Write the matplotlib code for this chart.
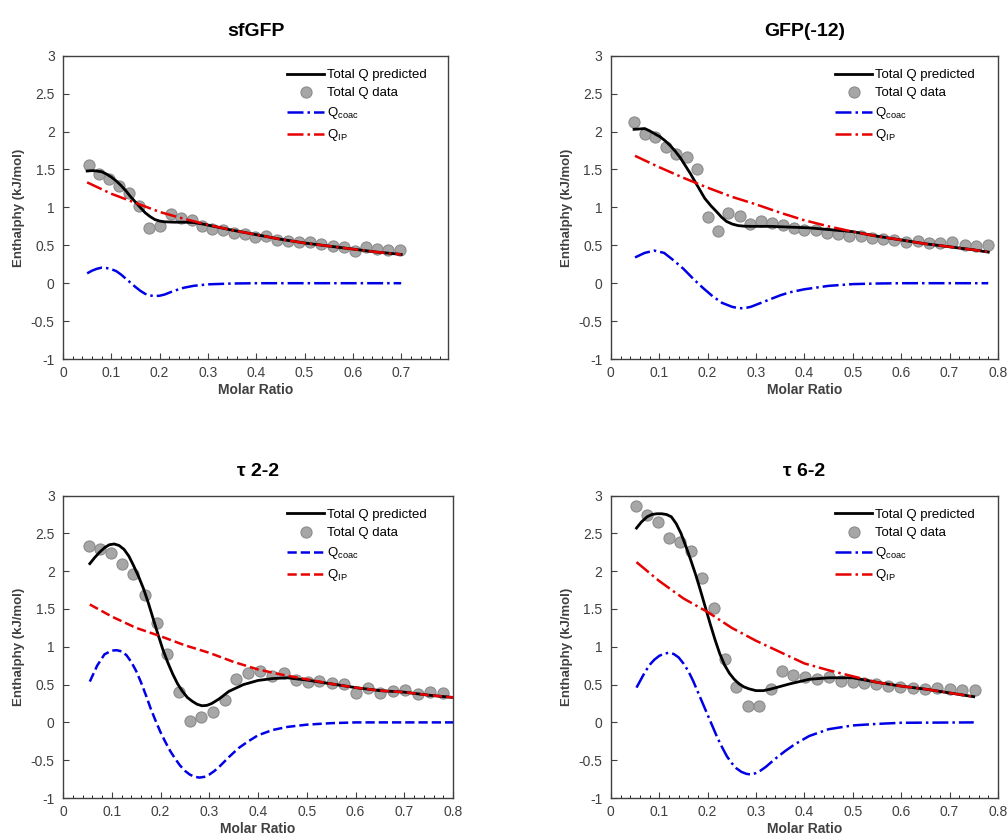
import matplotlib
matplotlib.use("Agg")
import matplotlib.pyplot as plt
from matplotlib.ticker import MultipleLocator
import numpy as np

plt.rcParams["font.family"] = ["Liberation Sans", "DejaVu Sans"]
plt.rcParams["mathtext.fontset"] = "custom"
plt.rcParams["mathtext.rm"] = "Liberation Sans"

# ---- sfGFP ----
sf_data_x = [0.053, 0.074, 0.095, 0.116, 0.137, 0.158, 0.179, 0.201, 0.223, 0.244,
             0.266, 0.287, 0.309, 0.331, 0.353, 0.376, 0.398, 0.420, 0.443, 0.465,
             0.489, 0.511, 0.535, 0.558, 0.581, 0.604, 0.627, 0.650, 0.673, 0.698]
sf_data_y = [1.56, 1.44, 1.38, 1.285, 1.19, 1.02, 0.73, 0.76, 0.915, 0.854,
             0.83, 0.75, 0.72, 0.706, 0.66, 0.645, 0.614, 0.627, 0.575, 0.562,
             0.549, 0.54, 0.523, 0.497, 0.479, 0.423, 0.479, 0.457, 0.44, 0.444]
sf_pred_x = [0.05, 0.06, 0.07, 0.08, 0.09, 0.10, 0.11, 0.12, 0.13, 0.14, 0.15, 0.16,
             0.17, 0.18, 0.19, 0.20, 0.21, 0.23, 0.25, 0.27, 0.29, 0.32, 0.35, 0.4,
             0.45, 0.5, 0.55, 0.6, 0.65, 0.7]
sf_pred_y = [1.48, 1.485, 1.48, 1.47, 1.44, 1.40, 1.35, 1.29, 1.22, 1.14, 1.07, 1.00,
             0.93, 0.88, 0.84, 0.82, 0.81, 0.805, 0.805, 0.80, 0.78, 0.74, 0.70, 0.64,
             0.58, 0.53, 0.49, 0.45, 0.41, 0.38]
sf_coac_x = [0.05, 0.06, 0.07, 0.08, 0.09, 0.10, 0.11, 0.12, 0.13, 0.14, 0.15, 0.16,
             0.17, 0.18, 0.19, 0.20, 0.21, 0.22, 0.23, 0.25, 0.27, 0.30, 0.35, 0.40, 0.70]
sf_coac_y = [0.13, 0.165, 0.19, 0.205, 0.20, 0.185, 0.16, 0.115, 0.06, 0.005, -0.05,
             -0.10, -0.14, -0.162, -0.17, -0.165, -0.15, -0.125, -0.10, -0.06,
             -0.035, -0.015, -0.004, 0.0, 0.0]
sf_ip_x = [0.05, 0.10, 0.15, 0.20, 0.25, 0.30, 0.35, 0.40, 0.45, 0.50, 0.55, 0.60, 0.65, 0.70]
sf_ip_y = [1.33, 1.18, 1.06, 0.94, 0.85, 0.77, 0.70, 0.64, 0.58, 0.53, 0.49, 0.45, 0.41, 0.38]

# ---- GFP(-12) ----
g12_data_x = [0.048, 0.070, 0.092, 0.113, 0.134, 0.157, 0.178, 0.200, 0.221, 0.243,
              0.266, 0.288, 0.310, 0.333, 0.355, 0.378, 0.400, 0.423, 0.446, 0.470,
              0.492, 0.516, 0.539, 0.563, 0.586, 0.610, 0.634, 0.657, 0.681, 0.705,
              0.731, 0.755, 0.779]
g12_data_y = [2.13, 1.97, 1.926, 1.80, 1.70, 1.67, 1.51, 0.867, 0.693, 0.92,
              0.88, 0.78, 0.82, 0.793, 0.763, 0.728, 0.70, 0.70, 0.66, 0.65,
              0.62, 0.627, 0.593, 0.584, 0.566, 0.545, 0.562, 0.532, 0.532, 0.545,
              0.50, 0.488, 0.51]
g12_pred_x = [0.048, 0.06, 0.07, 0.08, 0.091, 0.102, 0.112, 0.122, 0.132, 0.143, 0.153,
              0.164, 0.174, 0.184, 0.194, 0.207, 0.219, 0.229, 0.239, 0.251, 0.263,
              0.276, 0.288, 0.33, 0.41, 0.5, 0.55, 0.6, 0.65, 0.7, 0.75, 0.78]
g12_pred_y = [2.03, 2.035, 2.04, 2.01, 1.97, 1.93, 1.88, 1.82, 1.75, 1.66, 1.56,
              1.45, 1.34, 1.23, 1.12, 1.02, 0.94, 0.87, 0.815, 0.78, 0.76,
              0.752, 0.75, 0.75, 0.73, 0.68, 0.62, 0.57, 0.52, 0.48, 0.44, 0.41]
g12_coac_x = [0.05, 0.07, 0.09, 0.11, 0.13, 0.15, 0.17, 0.19, 0.21, 0.23, 0.25, 0.26,
              0.27, 0.28, 0.29, 0.31, 0.33, 0.35, 0.37, 0.40, 0.45, 0.50, 0.55, 0.60, 0.78]
g12_coac_y = [0.34, 0.40, 0.43, 0.40, 0.30, 0.19, 0.06, -0.06, -0.17, -0.26, -0.31, -0.325,
              -0.33, -0.325, -0.31, -0.26, -0.21, -0.16, -0.12, -0.08, -0.035, -0.012,
              -0.004, 0.0, 0.0]
g12_ip_x = [0.05, 0.10, 0.15, 0.20, 0.25, 0.30, 0.35, 0.40, 0.45, 0.50, 0.55, 0.60,
            0.65, 0.70, 0.75, 0.78]
g12_ip_y = [1.68, 1.53, 1.39, 1.26, 1.14, 1.04, 0.93, 0.83, 0.75, 0.68, 0.62, 0.57,
            0.52, 0.48, 0.44, 0.41]

# ---- tau 2-2 ----
t22_data_x = [0.054, 0.076, 0.099, 0.121, 0.144, 0.169, 0.192, 0.214, 0.238, 0.261,
              0.284, 0.308, 0.332, 0.355, 0.380, 0.404, 0.428, 0.453, 0.478, 0.502,
              0.526, 0.551, 0.576, 0.601, 0.626, 0.651, 0.676, 0.701, 0.728, 0.753, 0.779]
t22_data_y = [2.336, 2.29, 2.236, 2.10, 1.965, 1.68, 1.32, 0.90, 0.40, 0.017,
              0.074, 0.14, 0.29, 0.576, 0.66, 0.68, 0.61, 0.66, 0.563, 0.533,
              0.546, 0.524, 0.51, 0.39, 0.45, 0.393, 0.415, 0.432, 0.371, 0.406, 0.389]
t22_pred_x = [0.055, 0.065, 0.075, 0.085, 0.095, 0.105, 0.115, 0.125, 0.135, 0.145,
              0.155, 0.165, 0.175, 0.185, 0.195, 0.205, 0.215, 0.225, 0.235, 0.245,
              0.255, 0.265, 0.275, 0.285, 0.295, 0.305, 0.32, 0.34, 0.37, 0.40, 0.43,
              0.46, 0.50, 0.55, 0.60, 0.65, 0.70, 0.75, 0.80]
t22_pred_y = [2.10, 2.18, 2.25, 2.31, 2.35, 2.36, 2.34, 2.29, 2.20, 2.07,
              1.93, 1.77, 1.58, 1.37, 1.16, 0.96, 0.79, 0.64, 0.51, 0.41,
              0.33, 0.28, 0.24, 0.22, 0.225, 0.25, 0.31, 0.41, 0.50, 0.555, 0.58,
              0.59, 0.56, 0.51, 0.46, 0.42, 0.40, 0.36, 0.33]
t22_coac_x = [0.055, 0.07, 0.085, 0.10, 0.11, 0.12, 0.13, 0.14, 0.15, 0.16, 0.17, 0.18,
              0.19, 0.20, 0.21, 0.22, 0.23, 0.24, 0.25, 0.26, 0.27, 0.28, 0.29, 0.30,
              0.31, 0.32, 0.34, 0.36, 0.38, 0.40, 0.43, 0.46, 0.50, 0.55, 0.60, 0.80]
t22_coac_y = [0.54, 0.75, 0.90, 0.95, 0.955, 0.94, 0.89, 0.80, 0.68, 0.53, 0.36, 0.18,
              0.02, -0.13, -0.26, -0.38, -0.48, -0.57, -0.64, -0.69, -0.72, -0.73,
              -0.72, -0.69, -0.645, -0.59, -0.46, -0.34, -0.25, -0.17, -0.10, -0.06,
              -0.03, -0.01, 0.0, 0.0]
t22_ip_x = [0.055, 0.10, 0.15, 0.20, 0.25, 0.30, 0.35, 0.40, 0.45, 0.50, 0.55, 0.60,
            0.65, 0.70, 0.75, 0.80]
t22_ip_y = [1.56, 1.40, 1.25, 1.14, 1.02, 0.92, 0.80, 0.70, 0.63, 0.57, 0.51, 0.46,
            0.42, 0.40, 0.36, 0.33]

# ---- tau 6-2 ----
t62_data_x = [0.051, 0.074, 0.097, 0.120, 0.142, 0.165, 0.189, 0.213, 0.235, 0.259,
              0.283, 0.307, 0.330, 0.354, 0.377, 0.402, 0.427, 0.451, 0.475, 0.500,
              0.524, 0.548, 0.573, 0.598, 0.624, 0.649, 0.675, 0.701, 0.726, 0.752]
t62_data_y = [2.86, 2.75, 2.65, 2.44, 2.38, 2.27, 1.91, 1.51, 0.845, 0.47,
              0.223, 0.223, 0.44, 0.674, 0.626, 0.595, 0.573, 0.604, 0.547, 0.538,
              0.521, 0.508, 0.481, 0.464, 0.455, 0.438, 0.451, 0.442, 0.424, 0.429]
t62_pred_x = [0.053, 0.063, 0.075, 0.085, 0.095, 0.105, 0.115, 0.125, 0.135, 0.145,
              0.155, 0.165, 0.175, 0.185, 0.195, 0.205, 0.215, 0.225, 0.235, 0.245,
              0.255, 0.265, 0.275, 0.285, 0.30, 0.315, 0.33, 0.35, 0.37, 0.41, 0.45,
              0.50, 0.55, 0.60, 0.65, 0.70, 0.75]
t62_pred_y = [2.57, 2.65, 2.72, 2.75, 2.76, 2.76, 2.75, 2.72, 2.63, 2.50,
              2.33, 2.15, 1.96, 1.75, 1.53, 1.31, 1.10, 0.91, 0.76, 0.65,
              0.57, 0.51, 0.47, 0.445, 0.42, 0.42, 0.44, 0.475, 0.51, 0.57, 0.59,
              0.59, 0.53, 0.48, 0.44, 0.39, 0.34]
t62_coac_x = [0.053, 0.07, 0.08, 0.09, 0.10, 0.11, 0.12, 0.13, 0.14, 0.15, 0.16, 0.17,
              0.18, 0.19, 0.20, 0.21, 0.22, 0.23, 0.24, 0.25, 0.26, 0.27, 0.28, 0.29,
              0.30, 0.31, 0.32, 0.34, 0.36, 0.38, 0.41, 0.45, 0.50, 0.55, 0.60, 0.75]
t62_coac_y = [0.46, 0.66, 0.76, 0.83, 0.88, 0.91, 0.92, 0.905, 0.86, 0.78, 0.68, 0.55,
              0.40, 0.25, 0.10, -0.05, -0.20, -0.33, -0.45, -0.54, -0.61, -0.655, -0.68,
              -0.69, -0.67, -0.635, -0.59, -0.48, -0.38, -0.29, -0.18, -0.09, -0.04,
              -0.02, -0.005, 0.0]
t62_ip_x = [0.053, 0.10, 0.15, 0.20, 0.25, 0.30, 0.35, 0.40, 0.45, 0.50, 0.55, 0.60,
            0.65, 0.70, 0.75]
t62_ip_y = [2.12, 1.87, 1.64, 1.46, 1.25, 1.08, 0.93, 0.78, 0.69, 0.61, 0.53, 0.48,
            0.44, 0.39, 0.34]

panels = [
    ("sfGFP", [0.0625, 0.5726, 0.382, 0.361], 0.797,
     sf_data_x, sf_data_y, sf_pred_x, sf_pred_y, sf_coac_x, sf_coac_y, sf_ip_x, sf_ip_y, "-."),
    ("GFP(-12)", [0.606, 0.5726, 0.384, 0.361], 0.8,
     g12_data_x, g12_data_y, g12_pred_x, g12_pred_y, g12_coac_x, g12_coac_y, g12_ip_x, g12_ip_y, "-."),
    ("τ 2-2", [0.0625, 0.0500, 0.387, 0.360], 0.8,
     t22_data_x, t22_data_y, t22_pred_x, t22_pred_y, t22_coac_x, t22_coac_y, t22_ip_x, t22_ip_y, "--"),
    ("τ 6-2", [0.606, 0.0500, 0.384, 0.360], 0.8,
     t62_data_x, t62_data_y, t62_pred_x, t62_pred_y, t62_coac_x, t62_coac_y, t62_ip_x, t62_ip_y, "-."),
]

W, H = 1008, 840
fig = plt.figure(figsize=(W / 100, H / 100), dpi=100)

for (title, rect, xmax, dx, dy, px, py, cx, cy, ix, iy, ls) in panels:
    ax = fig.add_axes(rect)
    ax.plot(px, py, color="black", lw=2, label="Total Q predicted", zorder=3)
    ax.plot(dx, dy, "o", ms=8, mfc="#a6a6a6", mec="#8c8c8c", mew=0.8,
            label="Total Q data", zorder=2)
    ax.plot(cx, cy, ls, color="#0000e6", lw=1.8, label="Q$_\\mathregular{coac}$", zorder=4)
    ax.plot(ix, iy, ls, color="#e60000", lw=1.8, label="Q$_\\mathregular{IP}$", zorder=4)

    ax.set_xlim(0, xmax)
    ax.set_ylim(-1, 3)
    ax.xaxis.set_major_locator(MultipleLocator(0.1))
    ax.xaxis.set_minor_locator(MultipleLocator(0.02))
    ax.yaxis.set_major_locator(MultipleLocator(0.5))
    ax.xaxis.set_major_formatter(plt.FuncFormatter(lambda v, p: f"{v:g}"))
    ax.yaxis.set_major_formatter(plt.FuncFormatter(lambda v, p: f"{v:g}"))
    ax.tick_params(direction="in", labelsize=10, length=4, top=False, right=False,
                   colors="#404040", labelcolor="#404040")
    ax.tick_params(axis="x", pad=5)
    ax.tick_params(axis="y", pad=6)
    ax.tick_params(which="minor", direction="in", length=2)
    for s in ax.spines.values():
        s.set_color("#404040")
        s.set_linewidth(1.0)

    ax.set_title(title, fontsize=14, fontweight="bold", pad=14)
    ax.set_xlabel("Molar Ratio", fontsize=10, fontweight="bold", labelpad=2,
                  color="#404040")
    ax.set_ylabel("Enthalphy (kJ/mol)", fontsize=9.5, fontweight="bold", color="#404040")

    # legend sits at a fixed offset from the left spine
    anchor = (rect[0] + 219 / W, rect[1] + rect[3] - 8 / H)
    ax.legend(loc="upper left", bbox_to_anchor=anchor, bbox_transform=fig.transFigure,
              frameon=False, fontsize=9.5, handlelength=2.8, handletextpad=0.2,
              labelspacing=0.45, borderaxespad=0.0)

fig.savefig("out.png", dpi=100)
